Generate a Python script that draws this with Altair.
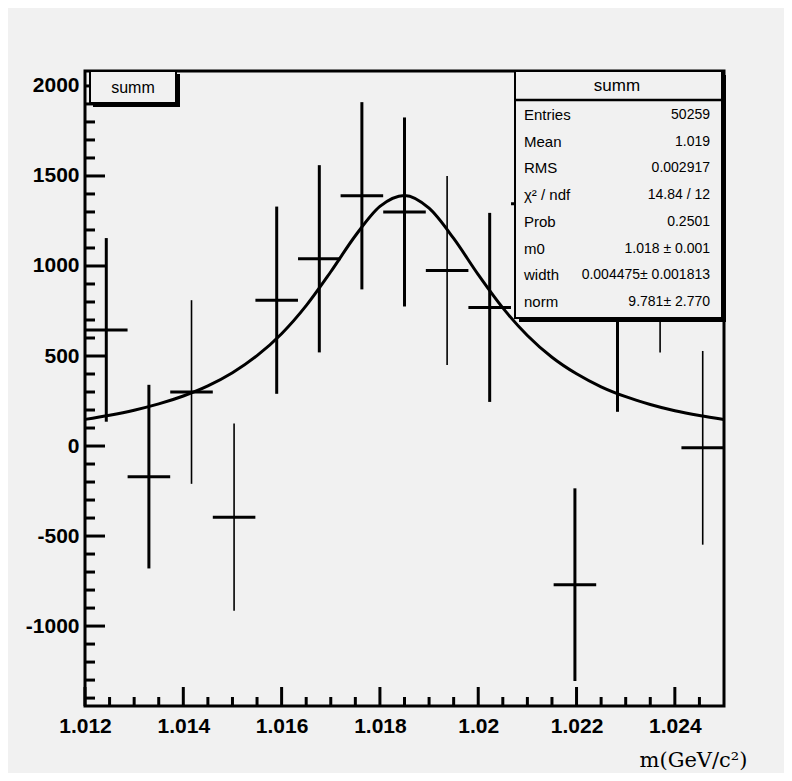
import altair as alt
import pandas as pd

# ---------------- data ----------------
BIN_CENTERS = [1.012433, 1.013300, 1.014167, 1.015033, 1.015900, 1.016767, 1.017633,
               1.018500, 1.019367, 1.020233, 1.021100, 1.021967, 1.022833, 1.023700, 1.024567]
BIN_HALF_WIDTH = 0.000433
COUNTS = [645, -170, 300, -395, 810, 1040, 1390, 1300, 975, 770, 1345, -770, 720, 1040, -10]
ERRORS = [510, 510, 510, 520, 520, 520, 520, 525, 525, 525, 525, 535, 530, 520, 538]

FIT_X = [1.0120, 1.0125, 1.0130, 1.0135, 1.0140, 1.0145, 1.0150, 1.0155, 1.0160,
         1.0165, 1.0170, 1.0175, 1.0180, 1.0185, 1.0190, 1.0195, 1.0200, 1.0205,
         1.0210, 1.0215, 1.0220, 1.0225, 1.0230, 1.0235, 1.0240, 1.0245, 1.0250]
FIT_Y = [148, 171, 199, 234, 278, 334, 407, 502, 624, 780, 968, 1168, 1331, 1392,
         1321, 1153, 952, 767, 614, 493, 401, 329, 274, 231, 196, 169, 147]

X_MAJOR = [1.012, 1.014, 1.016, 1.018, 1.02, 1.022, 1.024]
X_MINOR = [1.0125, 1.013, 1.0135, 1.0145, 1.015, 1.0155, 1.0165, 1.017, 1.0175,
           1.0185, 1.019, 1.0195, 1.0205, 1.021, 1.0215, 1.0225, 1.023, 1.0235, 1.0245]
Y_MAJOR = [-1000, -500, 0, 500, 1000, 1500, 2000]
Y_MINOR = [-1400, -1300, -1200, -1100, -900, -800, -700, -600, -400, -300, -200, -100,
           100, 200, 300, 400, 600, 700, 800, 900, 1100, 1200, 1300, 1400,
           1600, 1700, 1800, 1900]

HIST_NAME = "summ"
STAT_LABELS = ["Entries", "Mean", "RMS", "\u03c7\u00b2 / ndf", "Prob", "m0", "width", "norm"]
STAT_VALUES = ["50259", "1.019", "0.002917", "14.84 / 12", "0.2501",
               "1.018 \u00b1 0.001", "0.004475\u00b1 0.001813", "9.781\u00b1 2.770"]
X_TITLE = "m(GeV/c\u00b2)"

# style: bins whose vertical error bar is drawn thin in the picture
THIN_BINS = [2, 3, 8, 13, 14]

# ---------------- tables ----------------
pts = pd.DataFrame({"x": BIN_CENTERS, "y": COUNTS, "err": ERRORS})
pts["xlo"] = pts["x"] - BIN_HALF_WIDTH
pts["xhi"] = pts["x"] + BIN_HALF_WIDTH
pts["ylo"] = pts["y"] - pts["err"]
pts["yhi"] = pts["y"] + pts["err"]
pts["thin"] = [i in THIN_BINS for i in range(len(pts))]

fit = pd.DataFrame({"x": FIT_X, "y": FIT_Y})

BG = "#f1f1f1"
SANS = "Liberation Sans, Arial, Helvetica, sans-serif"
W, H = 639, 635

xs = alt.Scale(domain=[1.012, 1.025], nice=False, zero=False)
ys = alt.Scale(domain=[-1444, 2083], nice=False, zero=False)

XAX = alt.Axis(values=X_MAJOR, labelExpr="'' + datum.value", ticks=False, domain=False,
               grid=False, labelFont=SANS, labelFontSize=21, labelFontWeight="bold",
               labelColor="black", labelPadding=9, labelFlush=False, labelOverlap=False,
               title=X_TITLE, titleFont="DejaVu Serif", titleFontSize=21,
               titleFontWeight="normal", titleColor="black", titleX=662, titleY=54,
               titleAlign="right", titleBaseline="middle")
YAX = alt.Axis(values=Y_MAJOR, labelExpr="'' + datum.value", ticks=False, domain=False,
               grid=False, labelFont=SANS, labelFontSize=21, labelFontWeight="bold",
               labelColor="black", labelPadding=6, labelFlush=False, labelOverlap=False,
               title=None)


def X(f):
    return alt.X(f, scale=xs, axis=XAX)


def Y(f):
    return alt.Y(f, scale=ys, axis=YAX)


base_pts = alt.Chart(pts)

# horizontal bin bars
hbars = base_pts.mark_rule(color="black", strokeWidth=3).encode(
    x=X("xlo:Q"), x2="xhi:Q", y=Y("y:Q"))
vthick = base_pts.transform_filter("!datum.thin").mark_rule(color="black", strokeWidth=3).encode(
    x=X("x:Q"), y=Y("ylo:Q"), y2="yhi:Q")
vthin = base_pts.transform_filter("datum.thin").mark_rule(color="black", strokeWidth=1.6).encode(
    x=X("x:Q"), y=Y("ylo:Q"), y2="yhi:Q")

curve = alt.Chart(fit).mark_line(color="black", strokeWidth=3, interpolate="monotone").encode(
    x=X("x:Q"), y=Y("y:Q"))


# inward axis ticks
def yticks(vals, length):
    return alt.Chart(pd.DataFrame({"v": vals})).mark_rule(color="black", strokeWidth=3).encode(
        y=Y("v:Q"), x=alt.value(0), x2=alt.value(length))


def xticks(vals, length):
    return alt.Chart(pd.DataFrame({"v": vals})).mark_rule(color="black", strokeWidth=3).encode(
        x=X("v:Q"), y=alt.value(H), y2=alt.value(H - length))


one = pd.DataFrame({"k": [0]})


def box(x1, x2, y1, y2, **kw):
    return alt.Chart(one).mark_rect(**kw).encode(
        x=alt.value(x1), x2=alt.value(x2), y=alt.value(y1), y2=alt.value(y2))


def txt(s, x, y, align, size, weight="normal"):
    return alt.Chart(one).mark_text(text=s, align=align, baseline="middle", font=SANS,
                                    fontSize=size, fontWeight=weight, color="black").encode(
        x=alt.value(x), y=alt.value(y))


layers = [hbars, vthick, vthin, curve,
          yticks(Y_MAJOR, 20), yticks(Y_MINOR, 10),
          xticks(X_MAJOR, 19), xticks(X_MINOR, 9)]

# small title box (top left)
layers += [box(8, 95, 3, 36, fill="black"),
           box(5, 91, 0, 32, fill=BG, stroke="black", strokeWidth=2),
           txt(HIST_NAME, 48, 17, "center", 16)]

# statistics box (top right)
layers += [box(434, 641, 4, 251, fill="black"),
           box(430, 637, 0, 247, fill=BG, stroke="black", strokeWidth=2),
           alt.Chart(one).mark_rule(color="black", strokeWidth=2.5).encode(
               x=alt.value(430), x2=alt.value(637), y=alt.value(29)),
           txt(HIST_NAME, 532, 15, "center", 17)]
for i, (lab, val) in enumerate(zip(STAT_LABELS, STAT_VALUES)):
    yy = 44 + 26.7 * i
    layers += [txt(lab, 439, yy, "left", 15), txt(val, 625, yy, "right", 14)]

chart = alt.layer(*layers).properties(
    width=W, height=H, autosize="none",
    padding={"left": 77, "top": 63, "right": 60, "bottom": 67},
    background=BG,
).configure_view(stroke="black", strokeWidth=3, fill=BG)

chart.save("out.html", embed_options={"renderer": "svg", "actions": False})
